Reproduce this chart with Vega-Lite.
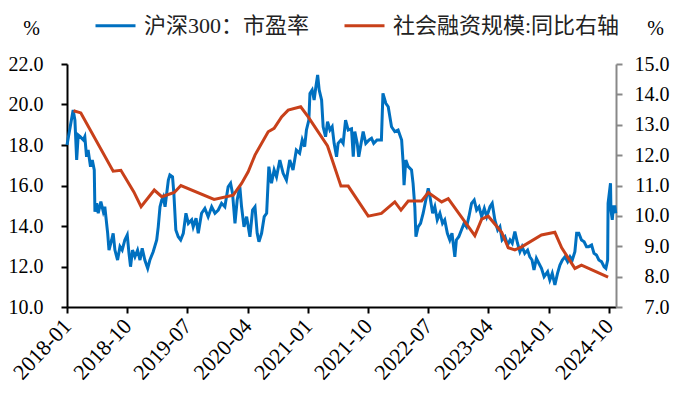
{
  "$schema": "https://vega.github.io/schema/vega-lite/v6.json",
  "width": 549,
  "height": 243,
  "autosize": {"type": "none"},
  "padding": {"left": 67, "top": 64, "right": 68, "bottom": 90},
  "background": "white",
  "config": {
    "font": "Liberation Serif",
    "view": {"stroke": null},
    "axis": {"grid": false, "labelFont": "Liberation Serif", "labelFontSize": 20, "labelColor": "black", "titleFont": "Liberation Serif", "titleFontWeight": "normal", "titleFontSize": 20, "titleColor": "black"}
  },
  "datasets": {
    "pe": [
      {"d": "2018-01-01", "v": 18.0},
      {"d": "2018-01-29", "v": 19.73},
      {"d": "2018-02-06", "v": 19.23},
      {"d": "2018-02-14", "v": 17.26},
      {"d": "2018-02-21", "v": 18.49},
      {"d": "2018-03-02", "v": 18.41},
      {"d": "2018-03-16", "v": 18.25},
      {"d": "2018-03-23", "v": 18.41},
      {"d": "2018-03-31", "v": 17.42},
      {"d": "2018-04-07", "v": 17.75},
      {"d": "2018-04-18", "v": 16.93},
      {"d": "2018-04-26", "v": 17.26},
      {"d": "2018-05-05", "v": 16.77},
      {"d": "2018-05-08", "v": 14.71},
      {"d": "2018-05-16", "v": 15.12},
      {"d": "2018-05-23", "v": 14.63},
      {"d": "2018-06-04", "v": 15.2},
      {"d": "2018-06-15", "v": 14.71},
      {"d": "2018-06-22", "v": 14.95},
      {"d": "2018-07-05", "v": 13.64},
      {"d": "2018-07-11", "v": 12.81},
      {"d": "2018-07-23", "v": 13.31},
      {"d": "2018-07-30", "v": 13.64},
      {"d": "2018-08-07", "v": 12.81},
      {"d": "2018-08-19", "v": 12.32},
      {"d": "2018-08-30", "v": 12.98},
      {"d": "2018-09-09", "v": 12.81},
      {"d": "2018-09-21", "v": 13.31},
      {"d": "2018-10-02", "v": 13.56},
      {"d": "2018-10-10", "v": 12.65},
      {"d": "2018-10-17", "v": 11.99},
      {"d": "2018-10-26", "v": 12.81},
      {"d": "2018-11-06", "v": 12.48},
      {"d": "2018-11-18", "v": 12.81},
      {"d": "2018-11-29", "v": 12.32},
      {"d": "2018-12-09", "v": 12.9},
      {"d": "2018-12-21", "v": 12.32},
      {"d": "2019-01-03", "v": 11.91},
      {"d": "2019-01-13", "v": 12.32},
      {"d": "2019-01-28", "v": 12.73},
      {"d": "2019-02-13", "v": 13.31},
      {"d": "2019-02-20", "v": 13.96},
      {"d": "2019-02-28", "v": 14.95},
      {"d": "2019-03-08", "v": 15.28},
      {"d": "2019-03-15", "v": 15.44},
      {"d": "2019-03-23", "v": 14.95},
      {"d": "2019-04-07", "v": 16.27},
      {"d": "2019-04-14", "v": 16.52},
      {"d": "2019-04-26", "v": 16.43},
      {"d": "2019-05-02", "v": 15.61},
      {"d": "2019-05-11", "v": 13.8},
      {"d": "2019-05-22", "v": 13.47},
      {"d": "2019-06-02", "v": 13.31},
      {"d": "2019-06-14", "v": 13.64},
      {"d": "2019-06-26", "v": 14.63},
      {"d": "2019-07-07", "v": 14.13},
      {"d": "2019-07-22", "v": 14.3},
      {"d": "2019-07-29", "v": 13.96},
      {"d": "2019-08-11", "v": 14.38},
      {"d": "2019-08-21", "v": 13.64},
      {"d": "2019-09-05", "v": 14.63},
      {"d": "2019-09-20", "v": 14.87},
      {"d": "2019-10-05", "v": 14.46},
      {"d": "2019-10-21", "v": 14.95},
      {"d": "2019-11-05", "v": 14.63},
      {"d": "2019-11-20", "v": 14.79},
      {"d": "2019-12-05", "v": 15.12},
      {"d": "2019-12-20", "v": 14.95},
      {"d": "2020-01-04", "v": 15.94},
      {"d": "2020-01-15", "v": 16.11},
      {"d": "2020-01-24", "v": 15.61},
      {"d": "2020-02-04", "v": 14.13},
      {"d": "2020-02-14", "v": 15.28},
      {"d": "2020-02-26", "v": 15.94},
      {"d": "2020-03-05", "v": 14.95},
      {"d": "2020-03-16", "v": 13.96},
      {"d": "2020-03-28", "v": 14.46},
      {"d": "2020-04-12", "v": 13.47},
      {"d": "2020-04-24", "v": 14.79},
      {"d": "2020-05-05", "v": 14.95},
      {"d": "2020-05-15", "v": 13.64},
      {"d": "2020-05-23", "v": 13.22},
      {"d": "2020-06-04", "v": 13.64},
      {"d": "2020-06-16", "v": 14.46},
      {"d": "2020-06-27", "v": 14.63},
      {"d": "2020-07-07", "v": 16.93},
      {"d": "2020-07-19", "v": 16.11},
      {"d": "2020-07-31", "v": 16.77},
      {"d": "2020-08-11", "v": 16.43},
      {"d": "2020-08-26", "v": 17.26},
      {"d": "2020-09-10", "v": 16.6},
      {"d": "2020-09-25", "v": 16.27},
      {"d": "2020-10-10", "v": 17.26},
      {"d": "2020-10-25", "v": 16.77},
      {"d": "2020-11-09", "v": 17.75},
      {"d": "2020-11-24", "v": 17.59},
      {"d": "2020-12-06", "v": 18.25},
      {"d": "2020-12-17", "v": 17.92},
      {"d": "2020-12-25", "v": 18.74},
      {"d": "2021-01-05", "v": 19.23},
      {"d": "2021-01-10", "v": 20.55},
      {"d": "2021-01-20", "v": 20.72},
      {"d": "2021-01-29", "v": 20.22},
      {"d": "2021-02-06", "v": 20.88},
      {"d": "2021-02-14", "v": 21.46},
      {"d": "2021-02-21", "v": 20.72},
      {"d": "2021-03-04", "v": 20.22},
      {"d": "2021-03-11", "v": 18.9},
      {"d": "2021-03-22", "v": 18.41},
      {"d": "2021-03-31", "v": 19.15},
      {"d": "2021-04-11", "v": 18.74},
      {"d": "2021-04-21", "v": 18.9},
      {"d": "2021-04-30", "v": 18.08},
      {"d": "2021-05-11", "v": 17.42},
      {"d": "2021-05-18", "v": 18.08},
      {"d": "2021-05-31", "v": 18.25},
      {"d": "2021-06-10", "v": 18.08},
      {"d": "2021-06-21", "v": 19.23},
      {"d": "2021-07-03", "v": 18.74},
      {"d": "2021-07-18", "v": 18.8},
      {"d": "2021-07-26", "v": 17.42},
      {"d": "2021-08-02", "v": 18.66},
      {"d": "2021-08-13", "v": 18.08},
      {"d": "2021-08-20", "v": 17.42},
      {"d": "2021-08-28", "v": 17.92},
      {"d": "2021-09-09", "v": 18.66},
      {"d": "2021-09-21", "v": 18.08},
      {"d": "2021-10-06", "v": 18.25},
      {"d": "2021-10-17", "v": 18.33},
      {"d": "2021-10-27", "v": 18.08},
      {"d": "2021-11-11", "v": 18.25},
      {"d": "2021-12-01", "v": 18.25},
      {"d": "2021-12-08", "v": 20.55},
      {"d": "2021-12-21", "v": 20.06},
      {"d": "2022-01-01", "v": 19.89},
      {"d": "2022-01-16", "v": 18.9},
      {"d": "2022-01-31", "v": 18.66},
      {"d": "2022-02-15", "v": 18.74},
      {"d": "2022-03-03", "v": 18.25},
      {"d": "2022-03-10", "v": 17.09},
      {"d": "2022-03-14", "v": 16.02},
      {"d": "2022-03-22", "v": 17.26},
      {"d": "2022-04-02", "v": 16.93},
      {"d": "2022-04-17", "v": 16.77},
      {"d": "2022-04-24", "v": 16.11},
      {"d": "2022-05-02", "v": 14.95},
      {"d": "2022-05-07", "v": 13.47},
      {"d": "2022-05-17", "v": 13.96},
      {"d": "2022-05-28", "v": 14.13},
      {"d": "2022-06-09", "v": 14.63},
      {"d": "2022-06-21", "v": 15.28},
      {"d": "2022-07-02", "v": 15.86},
      {"d": "2022-07-10", "v": 15.44},
      {"d": "2022-07-22", "v": 14.63},
      {"d": "2022-08-01", "v": 14.95},
      {"d": "2022-08-12", "v": 14.3},
      {"d": "2022-08-24", "v": 14.63},
      {"d": "2022-09-05", "v": 14.13},
      {"d": "2022-09-15", "v": 14.3},
      {"d": "2022-09-27", "v": 13.64},
      {"d": "2022-10-08", "v": 13.31},
      {"d": "2022-10-18", "v": 13.64},
      {"d": "2022-10-31", "v": 12.48},
      {"d": "2022-11-07", "v": 13.31},
      {"d": "2022-11-18", "v": 13.47},
      {"d": "2022-11-30", "v": 13.8},
      {"d": "2022-12-12", "v": 14.13},
      {"d": "2022-12-23", "v": 13.96},
      {"d": "2023-01-03", "v": 14.46},
      {"d": "2023-01-15", "v": 15.12},
      {"d": "2023-01-27", "v": 15.28},
      {"d": "2023-02-07", "v": 14.79},
      {"d": "2023-02-18", "v": 14.95},
      {"d": "2023-03-02", "v": 14.46},
      {"d": "2023-03-14", "v": 14.87},
      {"d": "2023-03-25", "v": 14.46},
      {"d": "2023-04-09", "v": 14.95},
      {"d": "2023-04-19", "v": 15.12},
      {"d": "2023-05-01", "v": 14.3},
      {"d": "2023-05-14", "v": 13.8},
      {"d": "2023-05-24", "v": 13.96},
      {"d": "2023-06-03", "v": 13.31},
      {"d": "2023-06-16", "v": 13.47},
      {"d": "2023-06-28", "v": 13.06},
      {"d": "2023-07-09", "v": 13.31},
      {"d": "2023-07-19", "v": 13.15},
      {"d": "2023-07-31", "v": 13.72},
      {"d": "2023-08-12", "v": 13.15},
      {"d": "2023-08-23", "v": 12.73},
      {"d": "2023-09-02", "v": 12.98},
      {"d": "2023-09-14", "v": 12.65},
      {"d": "2023-09-27", "v": 12.81},
      {"d": "2023-10-07", "v": 12.48},
      {"d": "2023-10-17", "v": 12.32},
      {"d": "2023-10-26", "v": 11.83},
      {"d": "2023-11-06", "v": 12.4},
      {"d": "2023-11-17", "v": 12.16},
      {"d": "2023-11-29", "v": 11.91},
      {"d": "2023-12-11", "v": 11.5},
      {"d": "2023-12-27", "v": 11.74},
      {"d": "2024-01-06", "v": 11.33},
      {"d": "2024-01-17", "v": 11.66},
      {"d": "2024-01-29", "v": 11.09},
      {"d": "2024-02-10", "v": 11.66},
      {"d": "2024-02-21", "v": 12.07},
      {"d": "2024-03-03", "v": 12.32},
      {"d": "2024-03-15", "v": 12.48},
      {"d": "2024-03-27", "v": 12.24},
      {"d": "2024-04-07", "v": 12.48},
      {"d": "2024-04-17", "v": 12.32},
      {"d": "2024-04-29", "v": 12.73},
      {"d": "2024-05-07", "v": 13.64},
      {"d": "2024-05-17", "v": 13.64},
      {"d": "2024-05-29", "v": 13.31},
      {"d": "2024-06-10", "v": 13.22},
      {"d": "2024-06-21", "v": 12.98},
      {"d": "2024-07-01", "v": 12.98},
      {"d": "2024-07-14", "v": 13.06},
      {"d": "2024-07-25", "v": 12.65},
      {"d": "2024-08-05", "v": 12.57},
      {"d": "2024-08-16", "v": 12.32},
      {"d": "2024-08-28", "v": 12.24},
      {"d": "2024-09-09", "v": 11.99},
      {"d": "2024-09-17", "v": 11.91},
      {"d": "2024-09-25", "v": 12.32},
      {"d": "2024-09-27", "v": 15.12},
      {"d": "2024-10-08", "v": 16.11},
      {"d": "2024-10-10", "v": 14.79},
      {"d": "2024-10-16", "v": 14.3},
      {"d": "2024-10-21", "v": 14.95},
      {"d": "2024-10-28", "v": 14.95},
      {"d": "2024-11-01", "v": 14.63}
    ],
    "sf": [
      {"d": "2018-01-31", "v": 13.46},
      {"d": "2018-03-05", "v": 13.39},
      {"d": "2018-07-30", "v": 11.47},
      {"d": "2018-09-03", "v": 11.5},
      {"d": "2018-11-01", "v": 10.79},
      {"d": "2018-12-04", "v": 10.3},
      {"d": "2019-02-02", "v": 10.85},
      {"d": "2019-03-08", "v": 10.63},
      {"d": "2019-05-04", "v": 10.77},
      {"d": "2019-06-03", "v": 11.0},
      {"d": "2019-11-01", "v": 10.54},
      {"d": "2020-01-27", "v": 10.68},
      {"d": "2020-03-05", "v": 11.07},
      {"d": "2020-04-04", "v": 11.45},
      {"d": "2020-05-05", "v": 12.0},
      {"d": "2020-07-04", "v": 12.77},
      {"d": "2020-07-31", "v": 12.88},
      {"d": "2020-09-03", "v": 13.26},
      {"d": "2020-10-03", "v": 13.48},
      {"d": "2020-11-29", "v": 13.59},
      {"d": "2021-01-02", "v": 13.26},
      {"d": "2021-03-31", "v": 12.3},
      {"d": "2021-05-31", "v": 10.98},
      {"d": "2021-07-03", "v": 10.98},
      {"d": "2021-10-02", "v": 9.99},
      {"d": "2021-12-01", "v": 10.08},
      {"d": "2022-01-31", "v": 10.46},
      {"d": "2022-02-28", "v": 10.19},
      {"d": "2022-04-02", "v": 10.49},
      {"d": "2022-06-02", "v": 10.49},
      {"d": "2022-07-02", "v": 10.77},
      {"d": "2022-09-01", "v": 10.46},
      {"d": "2022-10-01", "v": 10.57},
      {"d": "2023-01-30", "v": 9.35},
      {"d": "2023-03-02", "v": 9.89},
      {"d": "2023-04-01", "v": 9.99},
      {"d": "2023-06-01", "v": 9.46},
      {"d": "2023-07-01", "v": 8.95},
      {"d": "2023-07-31", "v": 8.88},
      {"d": "2023-08-31", "v": 8.98},
      {"d": "2023-11-29", "v": 9.37},
      {"d": "2024-01-29", "v": 9.46},
      {"d": "2024-02-29", "v": 8.95},
      {"d": "2024-04-29", "v": 8.27},
      {"d": "2024-05-29", "v": 8.38},
      {"d": "2024-09-27", "v": 7.98}
    ]
  },
  "layer": [
    {
      "data": {"name": "pe"},
      "mark": {"type": "line", "strokeWidth": 3, "interpolate": "linear"},
      "encoding": {
        "x": {
          "field": "d", "type": "temporal",
          "scale": {"type": "utc", "domain": [{"year": 2018, "month": 1, "date": 1, "utc": true}, {"year": 2024, "month": 11, "date": 2, "utc": true}]},
          "axis": {
            "title": null,
            "format": "%Y-%m",
            "values": [
              {"year": 2018, "month": 1, "date": 1, "utc": true},
              {"year": 2018, "month": 10, "date": 1, "utc": true},
              {"year": 2019, "month": 7, "date": 1, "utc": true},
              {"year": 2020, "month": 4, "date": 1, "utc": true},
              {"year": 2021, "month": 1, "date": 1, "utc": true},
              {"year": 2021, "month": 10, "date": 1, "utc": true},
              {"year": 2022, "month": 7, "date": 1, "utc": true},
              {"year": 2023, "month": 4, "date": 1, "utc": true},
              {"year": 2024, "month": 1, "date": 1, "utc": true},
              {"year": 2024, "month": 10, "date": 1, "utc": true}
            ],
            "labelAngle": -47,
            "labelAlign": "right",
            "labelBaseline": "middle",
            "labelFontSize": 22,
            "labelPadding": 9,
            "labelFlush": false,
            "labelOverlap": false,
            "domainColor": "black",
            "domainWidth": 2,
            "tickColor": "black",
            "tickWidth": 2,
            "tickSize": 6
          }
        },
        "y": {
          "field": "v", "type": "quantitative",
          "scale": {"domain": [10, 22], "nice": false, "zero": false},
          "axis": {
            "orient": "left",
            "values": [10, 12, 14, 16, 18, 20, 22],
            "format": ".1f",
            "title": "%",
            "titleAngle": 0,
            "titleX": -36,
            "titleY": -36,
            "titleAlign": "center",
            "titleBaseline": "middle",
            "labelPadding": 18,
            "labelAlign": "right",
            "domainColor": "black",
            "domainWidth": 2,
            "tickColor": "black",
            "tickWidth": 2,
            "tickSize": 6
          }
        },
        "color": {
          "datum": "沪深300：市盈率",
          "type": "nominal",
          "scale": {"domain": ["沪深300：市盈率", "社会融资规模:同比右轴"], "range": ["#0070C0", "#C8401A"]},
          "legend": {
            "title": null,
            "orient": "none",
            "direction": "horizontal",
            "legendX": 27,
            "legendY": -60,
            "symbolType": "stroke",
            "symbolSize": 1600,
            "symbolStrokeWidth": 3,
            "labelFont": "Liberation Serif, Noto Sans CJK SC",
            "labelFontSize": 22,
            "labelColor": "#222222",
            "labelLimit": 400,
            "labelOffset": 7,
            "columnPadding": 28,
            "padding": 0
          }
        }
      }
    },
    {
      "data": {"name": "sf"},
      "mark": {"type": "line", "strokeWidth": 3},
      "encoding": {
        "x": {"field": "d", "type": "temporal"},
        "y": {
          "field": "v", "type": "quantitative",
          "scale": {"domain": [7, 15], "nice": false, "zero": false},
          "axis": {
            "orient": "right",
            "values": [7, 8, 9, 10, 11, 12, 13, 14, 15],
            "format": ".1f",
            "title": "%",
            "titleAngle": 0,
            "titleX": 39,
            "titleY": -36,
            "titleAlign": "center",
            "titleBaseline": "middle",
            "labelPadding": 47,
            "labelAlign": "right",
            "domainColor": "#888888",
            "domainWidth": 2,
            "tickColor": "#888888",
            "tickWidth": 2,
            "tickSize": 6
          }
        },
        "color": {"datum": "社会融资规模:同比右轴", "type": "nominal"}
      }
    }
  ],
  "resolve": {"scale": {"y": "independent"}}
}
